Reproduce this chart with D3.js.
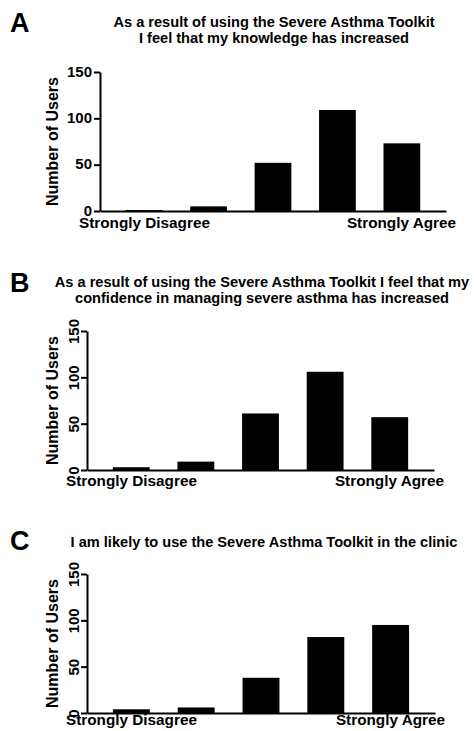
<!DOCTYPE html>
<html>
<head>
<meta charset="utf-8">
<script src="https://cdn.jsdelivr.net/npm/d3@7"></script>
<style>
  body { margin: 0; background: #fff; }
  svg text { font-family: 'Liberation Sans', Arial, sans-serif; font-weight: bold; fill: #000; }
  .axis path, .axis line { stroke: #000; stroke-width: 2px; }
</style>
</head>
<body>
<div id="chart"></div>
<script>
// Likert levels (1 = Strongly Disagree ... 5 = Strongly Agree)
const categories = ['1', '2', '3', '4', '5']
const knowledgeUsers = [1, 5, 52, 109, 73]
const confidenceUsers = [3, 9, 61, 106, 57]
const clinicUsers = [4, 6, 38, 82, 95]
const yTicks = [0, 50, 100, 150]
const endLabels = ['Strongly Disagree', 'Strongly Agree']
const titleA = ['As a result of using the Severe Asthma Toolkit', 'I feel that my knowledge has increased']
const titleB = ['As a result of using the Severe Asthma Toolkit I feel that my', 'confidence in managing severe asthma has increased']
const titleC = ['I am likely to use the Severe Asthma Toolkit in the clinic']

const svg = d3
  .select('#chart')
  .append('svg')
  .attr('width', 474)
  .attr('height', 731)

function drawPanel(opts) {
  const g = svg.append('g')

  const xPositionScale = d3
    .scaleBand()
    .domain(categories)
    .range([opts.left, opts.right])
    .paddingInner(0.43)
    .paddingOuter(0.4)

  const yPositionScale = d3
    .scaleLinear()
    .domain([0, 150])
    .range([opts.bottom, opts.top])

  // panel letter
  g.append('text')
    .attr('x', 10)
    .attr('y', opts.letterY)
    .attr('font-size', 27)
    .text(opts.letter)

  // title
  g.selectAll('.title')
    .data(opts.title)
    .enter()
    .append('text')
    .attr('class', 'title')
    .attr('x', opts.titleX)
    .attr('y', (d, i) => opts.titleY + i * 16)
    .attr('text-anchor', 'middle')
    .attr('font-size', 14.6)
    .text(d => d)

  // bars
  g.selectAll('.bar')
    .data(opts.values)
    .enter()
    .append('rect')
    .attr('class', 'bar')
    .attr('x', (d, i) => xPositionScale(categories[i]))
    .attr('width', xPositionScale.bandwidth())
    .attr('y', d => yPositionScale(d))
    .attr('height', d => opts.bottom - yPositionScale(d))
    .attr('fill', '#000')

  const yAxis = d3
    .axisLeft(yPositionScale)
    .tickValues(yTicks)
    .tickSize(6)
    .tickSizeOuter(0)
    .tickPadding(2)

  const yg = g
    .append('g')
    .attr('class', 'axis y-axis')
    .attr('transform', `translate(${opts.left},0)`)
    .call(yAxis)

  yg.selectAll('text')
    .attr('font-size', 15)
    .attr('font-family', null)

  if (opts.rotateTicks) {
    yg.selectAll('.tick text')
      .attr('transform', 'rotate(-90)')
      .attr('text-anchor', 'middle')
      .attr('x', 0)
      .attr('y', -8)
      .attr('dy', 0)
  } else {
    yg.selectAll('.tick text').attr('dy', '0.28em')
  }

  const xAxis = d3.axisBottom(xPositionScale).tickValues([]).tickSizeOuter(0)

  g.append('g')
    .attr('class', 'axis x-axis')
    .attr('transform', `translate(0,${opts.bottom})`)
    .call(xAxis)

  // end labels
  g.append('text')
    .attr('x', opts.left - 21)
    .attr('y', opts.bottom + opts.labelGap)
    .attr('font-size', 15.3)
    .text(endLabels[0])

  g.append('text')
    .attr('x', opts.right + 10)
    .attr('y', opts.bottom + opts.labelGap)
    .attr('text-anchor', 'end')
    .attr('font-size', 15.3)
    .text(endLabels[1])

  // y label
  g.append('text')
    .attr('transform', `translate(58,${(opts.top + opts.bottom) / 2}) rotate(-90)`)
    .attr('text-anchor', 'middle')
    .attr('font-size', 16)
    .text('Number of Users')
}

drawPanel({
  letter: 'A', letterY: 32, title: titleA, titleX: 274, titleY: 27,
  values: knowledgeUsers, left: 100, right: 446, top: 72, bottom: 211,
  rotateTicks: false, labelGap: 17
})

drawPanel({
  letter: 'B', letterY: 292, title: titleB, titleX: 262, titleY: 287,
  values: confidenceUsers, left: 87, right: 434, top: 331, bottom: 470,
  rotateTicks: true, labelGap: 16
})

drawPanel({
  letter: 'C', letterY: 550, title: titleC, titleX: 264, titleY: 547,
  values: clinicUsers, left: 87, right: 435, top: 574, bottom: 713,
  rotateTicks: true, labelGap: 12
})
</script>
</body>
</html>
